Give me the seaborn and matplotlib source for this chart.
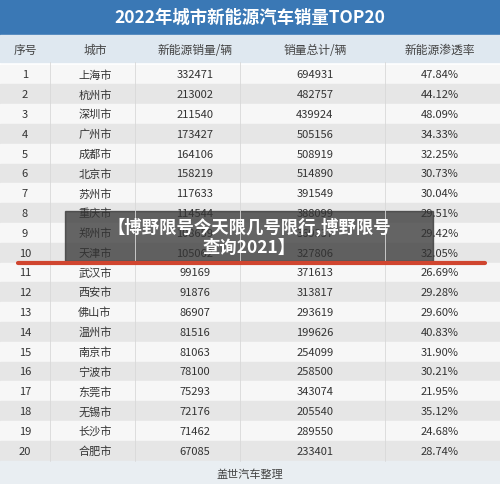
import matplotlib
matplotlib.use("Agg")
import matplotlib.pyplot as plt
import seaborn as sns
from matplotlib.patches import Rectangle

sns.set_theme(style="white")
plt.rcParams['font.family'] = ['Noto Sans CJK SC', 'DejaVu Sans']

title = "2022年城市新能源汽车销量TOP20"
headers = ["序号", "城市", "新能源销量/辆", "销量总计/辆", "新能源渗透率"]
cities = ["上海市", "杭州市", "深圳市", "广州市", "成都市", "北京市", "苏州市", "重庆市", "郑州市", "天津市",
          "武汉市", "西安市", "佛山市", "温州市", "南京市", "宁波市", "东莞市", "无锡市", "长沙市", "合肥市"]
nev_sales = [332471, 213002, 211540, 173427, 164106, 158219, 117633, 114544, 108659, 105062,
             99169, 91876, 86907, 81516, 81063, 78100, 75293, 72176, 71462, 67085]
total_sales = [694931, 482757, 439924, 505156, 508919, 514890, 391549, 388099, 369337, 327806,
               371613, 313817, 293619, 199626, 254099, 258500, 343074, 205540, 289550, 233401]
penetration = ["47.84%", "44.12%", "48.09%", "34.33%", "32.25%", "30.73%", "30.04%", "29.51%", "29.42%", "32.05%",
               "26.69%", "29.28%", "29.60%", "40.83%", "31.90%", "30.21%", "21.95%", "35.12%", "24.68%", "28.74%"]
footer = "盖世汽车整理"
caption = "【博野限号今天限几号限行,博野限号\n查询2021】"

fig = plt.figure(figsize=(5, 4.85), dpi=100)
ax = fig.add_axes([0, 0, 1, 1])
ax.set_xlim(0, 500); ax.set_ylim(485, 0); ax.axis("off")

ax.add_patch(Rectangle((0, 0), 500, 36, color="#3a78b5"))
ax.text(250, 18, title, ha="center", va="center", color="white", fontsize=12.5, fontweight="bold")
ax.add_patch(Rectangle((0, 36), 500, 27, color="#dfe8f0"))
xs = [25, 95, 195, 315, 440]
for x, h in zip(xs, headers):
    ax.text(x, 50, h, ha="center", va="center", fontsize=8.5, color="#444444")

y0, dy = 65.5, 19.8
for i in range(20):
    top = y0 + i * dy
    ax.add_patch(Rectangle((0, top), 500, dy, color="#e6e6e6" if i % 2 else "#f7f7f7"))
    yc = top + dy / 2
    vals = [str(i + 1), cities[i], str(nev_sales[i]), str(total_sales[i]), penetration[i]]
    for x, v in zip(xs, vals):
        ax.text(x, yc, v, ha="center", va="center", fontsize=8, color="#333333")
for x in [50, 135, 240, 385]:
    ax.plot([x, x], [63, y0 + 20 * dy], color="#d8d8d8", lw=0.6)

ax.add_patch(Rectangle((0, y0 + 20 * dy), 500, 485 - (y0 + 20 * dy), color="#e9eef2"))
ax.text(250, 475, footer, ha="center", va="center", fontsize=8, color="#444444")

ax.plot([18, 485], [264, 264], color="#d0452f", lw=3)
ax.add_patch(Rectangle((65, 212), 368, 50, color="#333333", alpha=0.75))
ax.text(249, 237, caption, ha="center", va="center", color="white", fontsize=12.5,
        fontweight="bold", linespacing=1.2)

fig.savefig("out.png", dpi=100)
